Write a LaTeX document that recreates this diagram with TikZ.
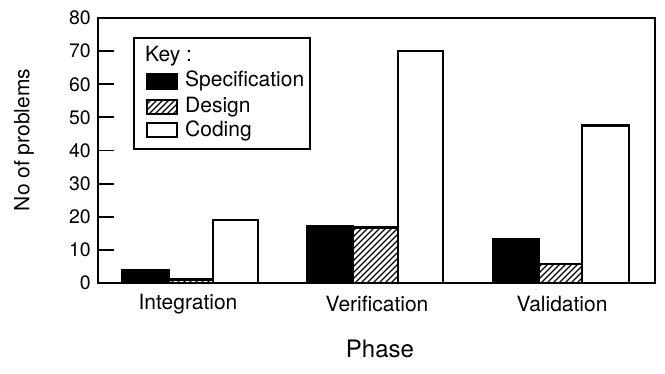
\documentclass[tikz,border=0pt]{standalone}
\usepackage{fontspec}
\setmainfont{TeX Gyre Heros}
\begin{document}
\begin{tikzpicture}[x=1pt,y=-1pt,
  frame/.style={line width=1.8pt},
  bar/.style={line width=2.4pt,line join=miter},
  specbar/.style={bar,fill=black},
  codebar/.style={bar,fill=white},
  hatchline/.style={line width=1.1pt},
  ticklab/.style={anchor=east,inner sep=0pt,font=\fontsize{19.5}{21}\selectfont},
  catlab/.style={inner sep=0pt,font=\fontsize{21}{23}\selectfont},
  keylab/.style={anchor=west,inner sep=0pt,font=\fontsize{21}{23}\selectfont}]
\useasboundingbox (0,0) rectangle (665,374);
\newcommand\hatchbar[3]{%
  \begin{scope}
    \clip (#1,#3) rectangle (#2,283);
    \foreach \k in {-84,-78,...,60} \draw[hatchline] ({#1+\k},{283+2}) -- ++(90,-90);
  \end{scope}
  \draw[bar] (#1,#3) rectangle (#2,283);}
% frame
\draw[frame] (98,18) rectangle (655,283);
% ticks and labels
\foreach \v in {0,10,...,80} {
  \draw[frame] (98,{283-\v*3.3125}) -- (114,{283-\v*3.3125});
  \node[ticklab] (t\v) at (91,{283-\v*3.3125}) {\v};
}
% Integration
\draw[specbar] (122,{283-4*3.3125}) rectangle (169,283);
\hatchbar{169}{213}{{283-1*3.3125}}
\draw[codebar] (213,{283-19*3.3125}) rectangle (258,283);
% Verification
\draw[specbar] (307,{283-17*3.3125}) rectangle (353,283);
\hatchbar{353}{398}{{283-16.7*3.3125}}
\draw[codebar] (398,{283-70*3.3125}) rectangle (443,283);
% Validation
\draw[specbar] (493,{283-13.2*3.3125}) rectangle (539,283);
\hatchbar{539}{582}{{283-5.8*3.3125}}
\draw[codebar] (582,{283-47.5*3.3125}) rectangle (629,283);
% category labels
\node[catlab] (lint) at (188,304) {Integration};
\node[catlab] (lver) at (377,304) {Verification};
\node[catlab] (lval) at (562,304) {Validation};
\node[inner sep=0pt,font=\fontsize{24}{26}\selectfont] (phase) at (380,349) {Phase};
\node[inner sep=0pt,rotate=90,font=\fontsize{21}{23}\selectfont] (ylab) at (24,140) {No of problems};
% legend
\draw[frame,fill=white] (134,38) rectangle (310,149);
\node[keylab] (key) at (145,56) {Key :};
\draw[specbar,line width=1.5pt] (147,74) rectangle (177,89);
\node[keylab] (kspec) at (185,81) {Specification};
\begin{scope}
  \clip (147,100) rectangle (177,114);
  \foreach \k in {-24,-18,...,30} \draw[hatchline] ({147+\k},116) -- ++(30,-30);
\end{scope}
\draw[line width=1.5pt] (147,100) rectangle (177,114);
\node[keylab] (kdes) at (185,107) {Design};
\draw[line width=1.5pt] (147,123) rectangle (177,137);
\node[keylab] (kcod) at (185,131) {Coding};
\end{tikzpicture}
\end{document}
